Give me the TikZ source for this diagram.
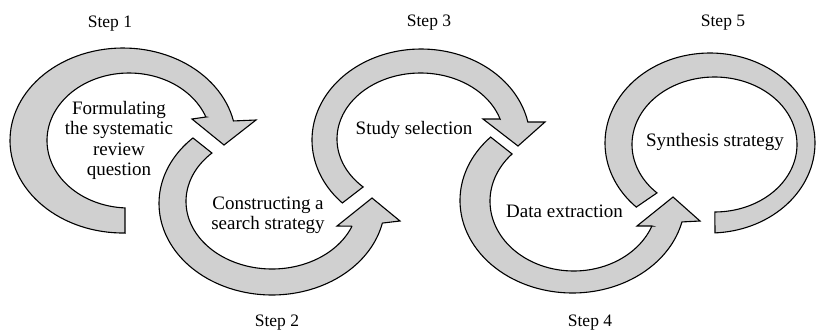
\documentclass[tikz,border=0pt]{standalone}
\usepackage{fontspec}
\setmainfont{Liberation Serif}
\definecolor{arrowgray}{RGB}{208,208,208}
\tikzset{
  arrowshape/.style={fill=arrowgray, draw=black, line width=1.1pt, line join=miter},
  steplabel/.style={font=\fontsize{17.5}{20}\selectfont, anchor=base, inner sep=0pt},
  bodytext/.style={font=\fontsize{19}{20.5}\selectfont, inner sep=0pt, align=center}
}
\begin{document}
\begin{tikzpicture}[x=1pt,y=-1pt]
\useasboundingbox (0,0) rectangle (817,333);

% Arrow 1
\draw[arrowshape] (125,233)
  -- plot[domain=89:347.8, samples=90] ({123+113*cos(\x)},{140.5+92.5*sin(\x)})
  -- (256,120) -- (224,145) -- (192,119) -- (206,117)
  -- plot[domain=339.6:92.8, samples=90] ({129+82*cos(\x)},{140.5+67.5*sin(\x)})
  -- cycle;

% Arrow 2
\draw[arrowshape]
  plot[domain=225.6:12.4, samples=90] ({272+113*cos(\x)},{203.4+91.6*sin(\x)})
  -- (400,221) -- (372,198) -- (337,226) -- (352,226.2)
  -- plot[domain=21.5:225.7, samples=90] ({272+86*cos(\x)},{201.4+67.6*sin(\x)})
  -- cycle;

% Arrow 3
\draw[arrowshape]
  plot[domain=136.2:348.6, samples=90] ({421+109*cos(\x)},{140+91*sin(\x)})
  -- (545,122) -- (518,146) -- (483,119) -- (500,119)
  -- plot[domain=342.4:133.4, samples=90] ({420.5+83.5*cos(\x)},{139+66*sin(\x)})
  -- cycle;

% Arrow 4
\draw[arrowshape]
  plot[domain=223.3:13.4, samples=90] ({572.5+112.5*cos(\x)},{200.5+92.5*sin(\x)})
  -- (700,221) -- (673,197) -- (637,226) -- (652,226)
  -- plot[domain=20.8:222.6, samples=90] ({573.7+83.7*cos(\x)},{201.2+69.8*sin(\x)})
  -- cycle;

% Arrow 5
\draw[arrowshape]
  plot[domain=134.6:447.3, samples=120] ({710+105*cos(\x)},{143+90*sin(\x)})
  -- plot[domain=449.7:134.2, samples=120] ({714.5+82.5*cos(\x)},{144.5+67.5*sin(\x)})
  -- cycle;

% Step labels
\node[steplabel] (s1) at (110,27) {Step 1};
\node[steplabel] (s2) at (277,326) {Step 2};
\node[steplabel] (s3) at (429,26) {Step 3};
\node[steplabel] (s4) at (590,326) {Step 4};
\node[steplabel] (s5) at (723,26) {Step 5};

% Body texts
\node[bodytext] (t1) at (119,140.4) {Formulating\\the systematic\\review\\question};
\node[bodytext] (t2) at (268,215.4) {Constructing a\\search strategy};
\node[bodytext, anchor=base] (t3) at (414,134.5) {Study selection};
\node[bodytext, anchor=base] (t4) at (564.5,217.6) {Data extraction};
\node[bodytext, anchor=base] (t5) at (715,146) {Synthesis strategy};
\end{tikzpicture}
\end{document}
